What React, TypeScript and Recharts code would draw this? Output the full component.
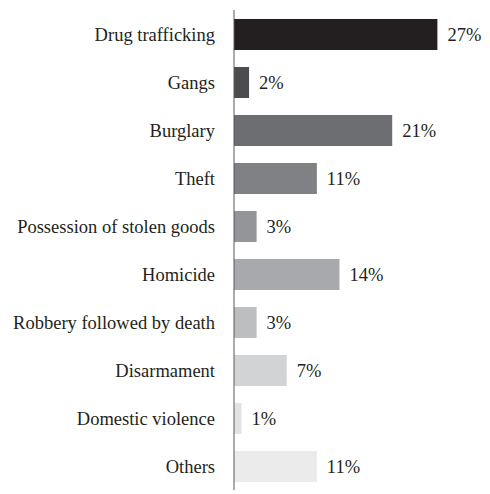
import { BarChart, Bar, XAxis, YAxis, Cell, LabelList } from "recharts"

const categories = [
  "Drug trafficking",
  "Gangs",
  "Burglary",
  "Theft",
  "Possession of stolen goods",
  "Homicide",
  "Robbery followed by death",
  "Disarmament",
  "Domestic violence",
  "Others",
]
const shares = [27, 2, 21, 11, 3, 14, 3, 7, 1, 11]
const shades = [
  "#231f20", "#4d4d4f", "#6d6e71", "#808184", "#939598",
  "#a7a9ac", "#bcbec0", "#d1d3d4", "#e2e3e4", "#ebebec",
]

const data = categories.map((name, i) => ({ name, value: shares[i] }))

const FONT = "Liberation Serif"

export default function App() {
  return (
    <div style={{ position: "absolute", left: 0, top: 0, width: 490, height: 494, background: "#fff", fontFamily: FONT }}>
      <BarChart
        width={490}
        height={494}
        data={data}
        layout="vertical"
        margin={{ top: 10, right: 30, bottom: 4, left: 0 }}
      >
        <XAxis type="number" domain={[0, 30]} hide />
        <YAxis
          type="category"
          dataKey="name"
          width={234}
          tickLine={false}
          tickSize={0}
          tickMargin={19}
          axisLine={{ stroke: "#58595b", strokeWidth: 1 }}
          tick={{ fill: "#231f20", fontSize: 18.5, fontFamily: FONT }}
          interval={0}
        />
        <Bar dataKey="value" barSize={31} isAnimationActive={false}>
          {data.map((d, i) => <Cell key={d.name} fill={shades[i]} />)}
          <LabelList
            dataKey="value"
            position="right"
            offset={10}
            formatter={(v: number) => `${v}%`}
            fill="#231f20"
            fontSize={18.5}
            fontFamily={FONT}
          />
        </Bar>
      </BarChart>
    </div>
  )
}
